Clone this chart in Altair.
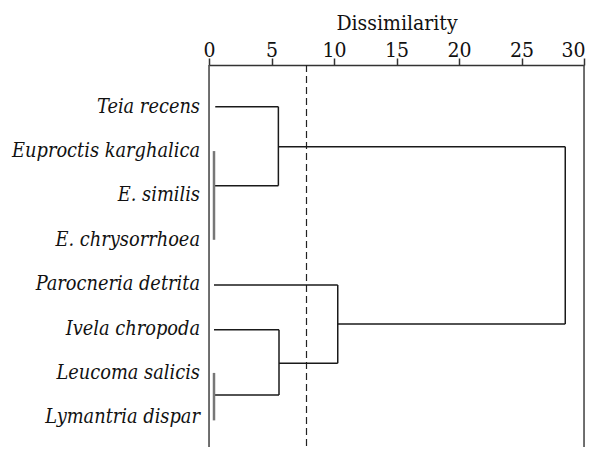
import altair as alt
import pandas as pd

# Leaf labels (top to bottom) and their row positions
species = ["Teia recens", "Euproctis karghalica", "E. similis", "E. chrysorrhoea",
           "Parocneria detrita", "Ivela chropoda", "Leucoma salicis", "Lymantria dispar"]
rows = [1, 2, 3, 4, 5, 6, 7, 8]

# Dendrogram segments (dissimilarity on x, row position on y)
seg_x_start = [0.5, 5.55, 0.4, 0.4, 5.55, 28.5, 10.3, 0.4, 10.3, 5.6, 0.4, 5.6, 0.4, 0.4]
seg_x_end   = [5.55, 5.55, 5.55, 0.4, 28.5, 28.5, 28.5, 10.3, 10.3, 10.3, 5.6, 5.6, 5.6, 0.4]
seg_y_start = [1.0, 1.0, 2.78, 2.0, 1.90, 1.90, 5.90, 5.02, 5.02, 6.78, 6.03, 6.03, 7.50, 7.0]
seg_y_end   = [1.0, 2.78, 2.78, 4.0, 1.90, 5.90, 5.90, 5.02, 6.78, 6.78, 6.03, 7.50, 7.50, 8.07]
seg_kind    = ["link", "link", "link", "cluster", "link", "link", "link", "link",
               "link", "link", "link", "link", "link", "cluster"]

cut_level = [7.8]
frame_x = [0, 30]
tick_values = [0, 5, 10, 15, 20, 25, 30]

FONT = "DejaVu Serif Condensed, DejaVu Serif"

segs = pd.DataFrame({"x": seg_x_start, "x2": seg_x_end, "y": seg_y_start,
                     "y2": seg_y_end, "kind": seg_kind})
labels = pd.DataFrame({"name": species, "row": rows})

xscale = alt.Scale(domain=[0, 30], nice=False, zero=False)
yscale = alt.Scale(domain=[0.06, 8.67], reverse=True, nice=False, zero=False)

xaxis = alt.Axis(orient="top", values=tick_values, title="Dissimilarity",
                 titleFont=FONT, titleFontSize=21, titleFontWeight="normal",
                 titleColor="#111", titlePadding=6,
                 labelFont=FONT, labelFontSize=21, labelColor="#111",
                 labelFlush=False, labelPadding=2, labelOverlap=False,
                 labelBaseline="alphabetic",
                 labelAlign=alt.condition("datum.value == 30",
                                          alt.value("right"), alt.value("center")),
                 labelOffset=alt.condition("datum.value == 30",
                                           alt.value(1), alt.value(0)),
                 domainColor="#333", domainWidth=1.5, tickColor="#333",
                 tickWidth=1.5, tickSize=7, grid=False)

frame = alt.Chart(pd.DataFrame({"fx": frame_x})).mark_rule(
    color="#444", strokeWidth=1.5
).encode(x=alt.X("fx:Q", scale=xscale, axis=xaxis))

cut = alt.Chart(pd.DataFrame({"c": cut_level})).mark_rule(
    color="#222", strokeWidth=1.2, strokeDash=[7, 4]
).encode(x=alt.X("c:Q", scale=xscale))

links = alt.Chart(segs).transform_filter(alt.datum.kind == "link").mark_rule(
    color="#1a1a1a", strokeWidth=1.5
).encode(
    x=alt.X("x:Q", scale=xscale), x2="x2:Q",
    y=alt.Y("y:Q", scale=yscale, axis=None), y2="y2:Q"
)

clusters = alt.Chart(segs).transform_filter(alt.datum.kind == "cluster").mark_rule(
    color="#777", strokeWidth=2.5
).encode(
    x=alt.X("x:Q", scale=xscale), x2="x2:Q",
    y=alt.Y("y:Q", scale=yscale, axis=None), y2="y2:Q"
)

text = alt.Chart(labels).mark_text(
    align="right", baseline="middle", font=FONT, fontSize=19.8,
    fontStyle="italic", color="#111", dx=-9
).encode(
    x=alt.value(0),
    y=alt.Y("row:Q", scale=yscale, axis=None),
    text="name:N"
)

chart = alt.layer(frame, cut, links, clusters, text).properties(
    width=375, height=382,
    padding={"left": 201, "top": 57, "right": 2, "bottom": 0},
    autosize=alt.AutoSizeParams(type="none"),
).configure_view(stroke=None).configure(background="white")

chart.save("out.html", embed_options={"renderer": "svg", "actions": False})
